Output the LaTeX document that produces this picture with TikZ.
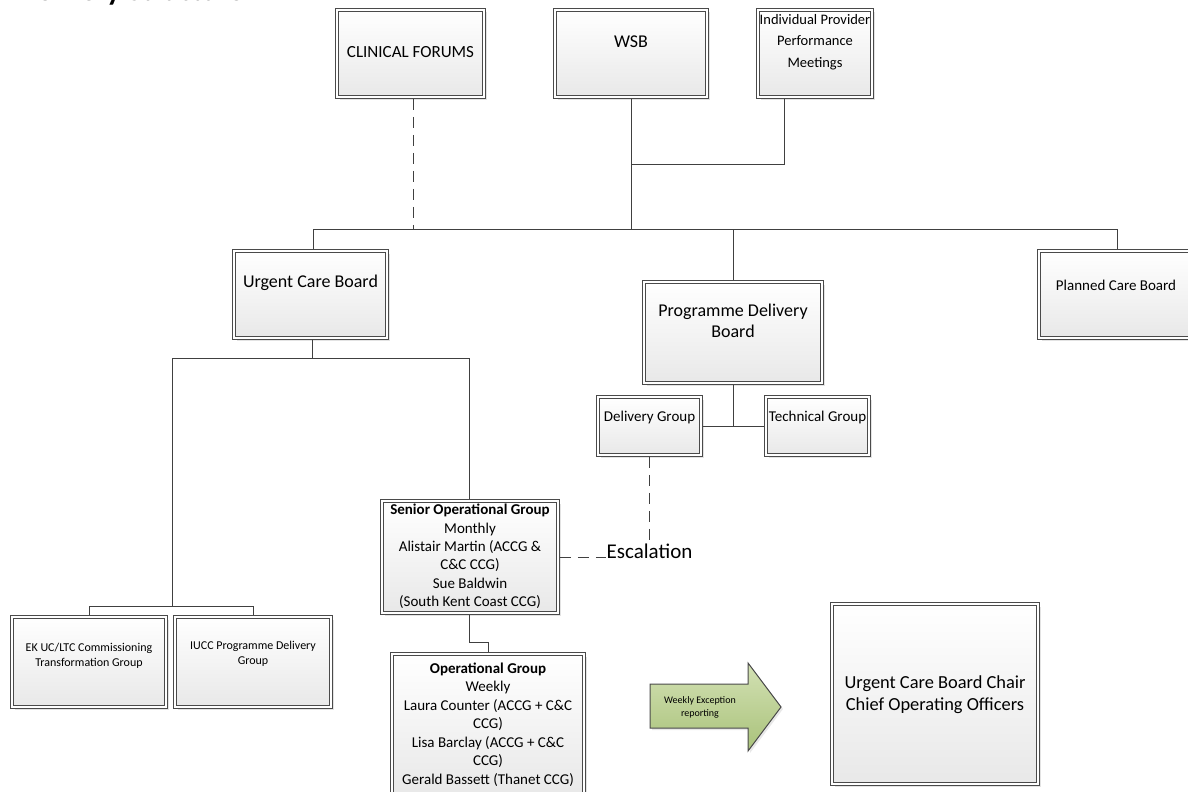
\documentclass[tikz,border=0pt]{standalone}
\usepackage{fontspec}
\setmainfont{Carlito}
\usetikzlibrary{shadows}
\definecolor{linegray}{HTML}{404040}
\definecolor{boxedge}{HTML}{4A4A4A}
\definecolor{arrowtop}{HTML}{D3E1B4}
\definecolor{arrowbot}{HTML}{A9C27A}
\begin{document}
\begin{tikzpicture}[x=1pt,y=-1pt,
  box/.style={top color=white, bottom color=black!9,
    drop shadow={shadow xshift=2.5pt, shadow yshift=-2.5pt, fill=black!22},
    postaction={draw=boxedge, line width=3.8pt},
    postaction={draw=white, line width=1.8pt},
    inner sep=0pt, outer sep=1.9pt},
  link/.style={draw=linegray, line width=1pt},
  dlink/.style={link, dash pattern=on 11pt off 7pt},
  big/.style={align=center, inner sep=0pt, font=\fontsize{18}{21.5}\selectfont},
  mid/.style={align=center, inner sep=0pt, font=\fontsize{15}{18.3}\selectfont},
  small/.style={align=center, inner sep=0pt, font=\fontsize{12}{14.5}\selectfont},
]
\useasboundingbox (0,0) rectangle (1188,792);
\clip (0,0) rectangle (1188,792);

% title (cut off at the top edge)
\node[anchor=base west, inner sep=0pt, font=\fontsize{30}{36}\bfseries] (title) at (18,1) {Delivery Structure};

% top row
\node[box, minimum width=147, minimum height=87] (cf) at (410.5,53.5) {};
\node[big, font=\fontsize{17}{21}\selectfont] (cft) at (410.5,52) {CLINICAL FORUMS};
\node[box, minimum width=152, minimum height=87] (wsb) at (631,53.5) {};
\node[big] (wsbt) at (631,42) {WSB};
\node[box, minimum width=114, minimum height=87] (ippm) at (815,53.5) {};
\node[big, font=\fontsize{14.5}{21.5}\selectfont] (ippmt) at (815,42) {Individual Provider\\Performance\\Meetings};

% second row
\node[box, minimum width=153, minimum height=87] (ucb) at (310.5,294.5) {};
\node[big] (ucbt) at (310.5,283) {Urgent Care Board};
\node[box, minimum width=178, minimum height=101] (pdb) at (733,332.5) {};
\node[big] (pdbt) at (733,321) {Programme Delivery\\Board};
\node[box, minimum width=154, minimum height=87] (pcb) at (1116,294.5) {};
\node[mid] (pcbt) at (1116,285) {Planned Care Board};

% delivery / technical
\node[box, minimum width=103, minimum height=58] (dg) at (649.5,426) {};
\node[mid] (dgt) at (649.5,417) {Delivery Group};
\node[box, minimum width=103, minimum height=58] (tg) at (817.5,426) {};
\node[mid] (tgt) at (817.5,417) {Technical Group};

% left groups
\node[box, minimum width=154, minimum height=90] (ek) at (89,662) {};
\node[small] (ekt) at (89,656) {EK UC/LTC Commissioning\\Transformation Group};
\node[box, minimum width=156, minimum height=90] (iucc) at (253,662) {};
\node[small] (iucct) at (253,654) {IUCC Programme Delivery\\Group};

% senior operational group
\node[box, minimum width=176, minimum height=112] (sog) at (470,557) {};
\node[mid] (sogt) at (470,556.5) {\textbf{Senior Operational Group}\\Monthly\\Alistair Martin (ACCG \&\\C\&C CCG)\\Sue Baldwin\\(South Kent Coast CCG)};

% operational group
\node[box, minimum width=192, minimum height=142] (og) at (488,725) {};
\node[mid, font=\fontsize{15}{18.5}\selectfont] (ogt) at (488,724.5) {\textbf{Operational Group}\\Weekly\\Laura Counter (ACCG + C\&C\\CCG)\\Lisa Barclay (ACCG + C\&C\\CCG)\\Gerald Bassett (Thanet CCG)};

% escalation label
\node[inner sep=0pt, font=\fontsize{21}{24}\selectfont] (esc) at (649.5,551) {Escalation};

% chair box
\node[box, minimum width=206, minimum height=180] (chair) at (935,694) {};
\node[big, font=\fontsize{18.4}{22}\selectfont] (chairt) at (935,695) {Urgent Care Board Chair\\Chief Operating Officers};

% green arrow
\draw[draw=boxedge, line width=1pt, top color=arrowtop, bottom color=arrowbot,
  drop shadow={shadow xshift=2pt, shadow yshift=-2pt, fill=black!18}]
  (650,684) -- (748,684) -- (748,663) -- (781,707) -- (748,751) -- (748,728) -- (650,728) -- cycle;
\node[small, font=\fontsize{10}{13}\selectfont] (rep) at (700,707) {Weekly Exception\\reporting};

% connectors
\coordinate (bus) at (631,229);
\coordinate (ippmj) at (631,164);
\draw[link] (wsb.south) -- (bus);
\draw[link] (ippm.south -| 784,0) -- (784,164) -- (ippmj);
\draw[link] (313,229) -- (1117,229);
\draw[link] (313,229) -- (ucb.north -| 313,0);
\draw[link] (733,229) -- (pdb.north);
\draw[link] (1117,229) -- (pcb.north -| 1117,0);
\draw[dlink] (cf.south -| 413,0) -- (413,229);

\coordinate (ucbj) at (312,358);
\draw[link] (ucb.south -| 312,0) -- (ucbj);
\draw[link] (172,606) -- (172,358) -- (469,358) -- (sog.north -| 469,0);
\draw[link] (ek.north) -- (89,606) -- (253,606) -- (iucc.north);

\draw[link] (pdb.south) -- (733,426);
\draw[link] (dg.east) -- (tg.west);

\draw[link] (sog.south -| 469,0) -- (469,642) -- (488,642) -- (og.north);

\draw[dlink] (dg.south) -- (esc.north);
\draw[dlink] (sog.east |- 0,557) -- (esc.west |- 0,557);
\end{tikzpicture}
\end{document}
